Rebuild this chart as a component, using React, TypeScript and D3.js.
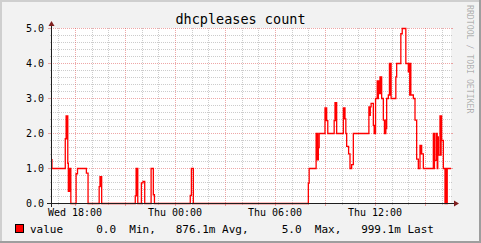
import React from "react";
import * as d3 from "d3";

const title = "dhcpleases count";
const watermark = "RRDTOOL / TOBI OETIKER";
const rangeStart = "Wed 16:33:36";
const rangeEnd = "Thu 16:33:36";
const yTicks = [0, 1, 2, 3, 4, 5];
const yTickLabels = ["0.0", "1.0", "2.0", "3.0", "4.0", "5.0"];
const yMax = 5;
const legendLabel = "value";
const legendStats = ["   0.0  Min,", " 876.1m Avg,", "   5.0  Max,", " 999.1m Last"];

const times = [
  "Wed 16:34", "Wed 16:37", "Wed 17:25", "Wed 17:28", "Wed 17:30", "Wed 17:31", "Wed 17:34", "Wed 17:36",
  "Wed 17:38", "Wed 17:40", "Wed 17:42", "Wed 17:45", "Wed 18:04", "Wed 18:09", "Wed 18:41", "Wed 18:47",
  "Wed 19:27", "Wed 19:30", "Wed 19:32", "Wed 19:34", "Wed 19:36", "Wed 21:37", "Wed 21:40", "Wed 21:42",
  "Wed 21:44", "Wed 21:46", "Wed 21:59", "Wed 22:05", "Wed 22:11", "Wed 22:34", "Wed 22:42", "Wed 22:46",
  "Thu 00:55", "Thu 00:59", "Thu 01:06", "Thu 08:00", "Thu 08:03", "Thu 08:28", "Thu 08:30", "Thu 08:32",
  "Thu 08:34", "Thu 08:36", "Thu 08:39", "Thu 09:00", "Thu 09:02", "Thu 09:04", "Thu 09:06", "Thu 09:10",
  "Thu 09:33", "Thu 09:36", "Thu 09:38", "Thu 09:40", "Thu 09:42", "Thu 10:06", "Thu 10:08", "Thu 10:10",
  "Thu 10:12", "Thu 10:15", "Thu 10:18", "Thu 10:25", "Thu 10:30", "Thu 10:36", "Thu 10:42", "Thu 11:38",
  "Thu 11:41", "Thu 11:43", "Thu 11:46", "Thu 11:54", "Thu 11:57", "Thu 11:59", "Thu 12:00", "Thu 12:02",
  "Thu 12:08", "Thu 12:10", "Thu 12:12", "Thu 12:14", "Thu 12:18", "Thu 12:20", "Thu 12:22", "Thu 12:24",
  "Thu 12:30", "Thu 12:34", "Thu 12:36", "Thu 12:37", "Thu 12:39", "Thu 12:42", "Thu 12:48", "Thu 12:52",
  "Thu 12:54", "Thu 12:56", "Thu 12:58", "Thu 13:15", "Thu 13:18", "Thu 13:33", "Thu 13:38", "Thu 13:51",
  "Thu 14:00", "Thu 14:03", "Thu 14:05", "Thu 14:07", "Thu 14:09", "Thu 14:18", "Thu 14:24", "Thu 14:30",
  "Thu 14:36", "Thu 14:42", "Thu 14:44", "Thu 14:46", "Thu 14:48", "Thu 14:54", "Thu 15:30", "Thu 15:32",
  "Thu 15:34", "Thu 15:36", "Thu 15:42", "Thu 15:44", "Thu 15:46", "Thu 15:48", "Thu 15:54", "Thu 15:56",
  "Thu 15:58", "Thu 16:00", "Thu 16:06", "Thu 16:12", "Thu 16:15", "Thu 16:17", "Thu 16:20",
];
const values = [
  1.25, 1.0, 1.85, 2.5, 1.85, 2.5, 1.15, 0.35,
  1.0, 0.35, 1.0, 0, 0.85, 1.0, 0.87, 0,
  0.48, 0.77, 0.5, 0.77, 0, 0.22, 1.0, 0.22,
  1.0, 0, 0.59, 0.63, 0, 1.0, 0.25, 0,
  0.23, 1.0, 0, 0.58, 1.0, 2.0, 1.25, 2.0,
  1.25, 1.6, 2.0, 2.73, 2.37, 2.73, 2.37, 2.0,
  2.37, 2.88, 2.37, 2.88, 2.0, 2.73, 2.42, 2.73,
  2.42, 2.0, 1.63, 1.42, 1.0, 1.11, 2.0, 2.76,
  2.52, 2.76, 2.86, 2.23, 2.0, 2.23, 2.0, 3.0,
  3.5, 3.0, 3.5, 3.14, 3.62, 3.14, 3.62, 3.0,
  2.38, 2.0, 2.38, 2.0, 2.14, 3.0, 3.1, 4.0,
  3.1, 4.0, 3.0, 3.62, 4.0, 4.85, 5.0, 4.0,
  3.76, 4.0, 3.1, 4.0, 3.1, 3.0, 2.38, 1.27,
  1.0, 1.66, 1.42, 1.66, 1.42, 1.0, 2.0, 1.0,
  2.0, 1.23, 2.0, 1.0, 1.9, 1.38, 2.5, 1.38,
  2.5, 1.8, 1.0, 0, 1.0, 0, 1.0,
];

function parseT(s: string): Date {
  const [day, hm] = s.split(" ");
  const [h, m, sec] = hm.split(":").map(Number);
  return new Date(2024, 0, day === "Wed" ? 3 : 4, h, m, sec || 0);
}

const W = 481;
const H = 243;
const X0 = 51;
const X1 = 451;
const Y0 = 203;
const Y1 = 28;
const FONT = "'DejaVu Sans Mono', monospace";
const GRID = "rgba(143,143,143,0.45)";
const MGRID = "rgba(222,79,79,0.5)";
const AXIS = "#1f1f1f";
const ARROW = "#7f1f1f";

export default function App() {
  const start = parseT(rangeStart);
  const end = parseT(rangeEnd);
  const x = d3.scaleTime().domain([start, end]).range([X0, X1]);
  const y = d3.scaleLinear().domain([0, yMax]).range([Y0, Y1]);

  const pts = times.map((t, i) => ({ t: parseT(t), v: values[i] }));
  pts.push({ t: end, v: values[values.length - 1] });
  const line = d3
    .line<{ t: Date; v: number }>()
    .x((d) => x(d.t))
    .y((d) => y(d.v) + 0.5)
    .curve(d3.curveStepAfter);

  const hours = d3.timeHour.range(start, end);
  const minorY = d3.range(0, yMax + 0.001, 0.2).map((v) => +v.toFixed(1));
  const fmt = d3.timeFormat("%a %H:%M");
  const px = (v: number) => Math.round(v) + 0.5;

  return (
    <svg width={W} height={H} style={{ position: "absolute", left: 0, top: 0 }} xmlns="http://www.w3.org/2000/svg">
      <rect x={0} y={0} width={W} height={H} fill="#f2f2f2" />
      <rect x={0} y={0} width={W} height={2} fill="#cfcfcf" />
      <rect x={0} y={0} width={2} height={H} fill="#cfcfcf" />
      <rect x={0} y={H - 2} width={W} height={2} fill="#9e9e9e" />
      <rect x={W - 2} y={0} width={2} height={H} fill="#9e9e9e" />
      <rect x={X0} y={Y1} width={X1 - X0} height={Y0 - Y1} fill="#ffffff" />

      <g shapeRendering="crispEdges">
        {minorY.filter((v) => !yTicks.includes(v)).map((v) => (
          <g key={"my" + v}>
            <line x1={X0} x2={X1} y1={px(y(v))} y2={px(y(v))} stroke={GRID} strokeDasharray="1,1" />
            <line x1={X0 - 1} x2={X0} y1={px(y(v))} y2={px(y(v))} stroke={GRID} />
            <line x1={X1} x2={X1 + 1} y1={px(y(v))} y2={px(y(v))} stroke={GRID} />
          </g>
        ))}
        {hours.filter((h) => h.getHours() % 3 !== 0).map((h) => (
          <g key={"mx" + h.getTime()}>
            <line x1={px(x(h))} x2={px(x(h))} y1={Y1} y2={Y0} stroke={GRID} strokeDasharray="1,1" />
            <line x1={px(x(h))} x2={px(x(h))} y1={Y0} y2={Y0 + 2} stroke={GRID} />
          </g>
        ))}
        {yTicks.map((v) => (
          <g key={"My" + v}>
            <line x1={X0} x2={X1} y1={px(y(v))} y2={px(y(v))} stroke={MGRID} strokeDasharray="1,1" />
            <line x1={X0 - 3} x2={X0} y1={px(y(v))} y2={px(y(v))} stroke={MGRID} />
            <line x1={X1} x2={X1 + 2} y1={px(y(v))} y2={px(y(v))} stroke={MGRID} />
          </g>
        ))}
        {hours.filter((h) => h.getHours() % 3 === 0).map((h) => (
          <g key={"Mx" + h.getTime()}>
            <line x1={px(x(h))} x2={px(x(h))} y1={Y1} y2={Y0} stroke={MGRID} strokeDasharray="1,1" />
            <line x1={px(x(h))} x2={px(x(h))} y1={Y0} y2={Y0 + 3} stroke={MGRID} />
          </g>
        ))}
      </g>

      <path d={line(pts) || ""} fill="none" stroke="#ff0000" strokeWidth={1.3} />

      <g shapeRendering="crispEdges">
        <line x1={X0 - 4} x2={X1 + 3} y1={Y0 + 0.5} y2={Y0 + 0.5} stroke={AXIS} />
        <line x1={X0 + 0.5} x2={X0 + 0.5} y1={Y0 + 4} y2={Y1 - 3} stroke={AXIS} />
      </g>
      <path d={`M${X0 - 2.5},${Y1 - 2} L${X0 + 3.5},${Y1 - 2} L${X0 + 0.5},${Y1 - 7} Z`} fill={ARROW} />
      <path d={`M${X1 + 3},${Y0 - 2.5} L${X1 + 3},${Y0 + 3.5} L${X1 + 8},${Y0 + 0.5} Z`} fill={ARROW} />

      <text x={W / 2} y={24} textAnchor="middle" fontFamily={FONT} fontSize={13.5} fill="#000">
        {title}
      </text>

      {yTicks.map((v, i) => (
        <text key={"yl" + v} x={44} y={y(v) + 4} textAnchor="end" fontFamily={FONT} fontSize={10} fill="#000">
          {yTickLabels[i]}
        </text>
      ))}
      {hours.filter((h) => h.getHours() % 6 === 0).map((h) => (
        <text key={"xl" + h.getTime()} x={x(h)} y={216} textAnchor="middle" fontFamily={FONT} fontSize={10} fill="#000">
          {fmt(h)}
        </text>
      ))}

      <text
        transform="translate(467,5) rotate(90)"
        fontFamily={FONT}
        fontSize={8.2}
        fill="rgba(0,0,0,0.3)"
      >
        {watermark}
      </text>

      <rect x={15.5} y={224.5} width={8} height={8} fill="#ff0000" stroke="#000" strokeWidth={1} shapeRendering="crispEdges" />
      <text x={30} y={233} fontFamily={FONT} fontSize={11} fill="#000" style={{ whiteSpace: "pre" }}>
        {legendLabel + "  " + legendStats.join("  ")}
      </text>
    </svg>
  );
}
